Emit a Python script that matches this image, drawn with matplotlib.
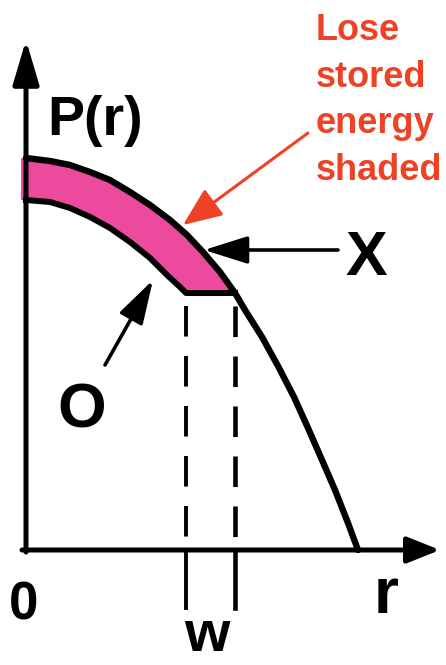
import numpy as np
import matplotlib.pyplot as plt
from matplotlib import font_manager

# curves (r, P in arbitrary units)
outer_r = [0.00, 0.24, 0.44, 0.64, 0.84, 1.04, 1.24, 1.44, 1.61, 1.77,
           1.94, 2.09, 2.19, 2.36, 2.52, 2.68, 2.82, 2.96, 3.09, 3.22, 3.32]
outer_P = [3.92, 3.89, 3.85, 3.78, 3.70, 3.58, 3.45, 3.30, 3.15, 2.98,
           2.78, 2.57, 2.40, 2.13, 1.84, 1.53, 1.22, 0.90, 0.60, 0.27, 0.00]
inner_r = [0.00, 0.24, 0.44, 0.64, 0.84, 1.04, 1.24, 1.41, 1.54, 1.60, 2.09]
inner_P = [3.50, 3.48, 3.42, 3.33, 3.22, 3.08, 2.92, 2.75, 2.63, 2.57, 2.57]
w_edges = [1.60, 2.09]
label_font = ['Liberation Sans Narrow', 'Liberation Sans', 'DejaVu Sans']
red = '#EE4126'
pink = '#EC4A9C'


def make_plot():
    names = {f.name for f in font_manager.fontManager.ttflist}
    lab = [f for f in label_font if f in names] or ['DejaVu Sans']
    plain = [f for f in label_font[1:] if f in names] or ['DejaVu Sans']

    fig = plt.figure(figsize=(4.46, 6.65), dpi=100)
    ax = fig.add_axes([0, 0, 1, 1])
    ax.set_xlim(-0.26, 4.20)
    ax.set_ylim(-1.15, 5.50)
    ax.axis('off')

    o_r = np.array(outer_r)
    o_P = np.array(outer_P)
    top = o_r <= w_edges[1] + 1e-9
    poly_r = np.concatenate([[-0.05], o_r[top], np.array(inner_r)[::-1], [-0.05]])
    poly_P = np.concatenate([[o_P[0]], o_P[top], np.array(inner_P)[::-1], [inner_P[0]]])
    ax.fill(poly_r, poly_P, color=pink, lw=0, zorder=1)

    ax.plot(outer_r, outer_P, color='k', lw=4.6, zorder=3,
            solid_capstyle='round', solid_joinstyle='round')
    ax.plot(inner_r, inner_P, color='k', lw=4.3, zorder=3,
            solid_joinstyle='round')

    # dashed markers of w
    for x, lw in zip(w_edges, [2.8, 3.3]):
        ax.plot([x, x], [2.44, 0.0], color='k', lw=lw,
                linestyle=(0, (22 / lw, 14 / lw)), zorder=2)
        ax.plot([x, x], [0.0, -0.58], color='k', lw=lw, zorder=2)

    # axes with arrow heads
    ax.annotate('', xy=(0, 5.10), xytext=(0, -0.02),
                arrowprops=dict(arrowstyle='-|>,head_length=2.7,head_width=0.8',
                                mutation_scale=10, lw=3.6, color='k',
                                shrinkA=0, shrinkB=0), zorder=4)
    ax.annotate('', xy=(4.14, 0), xytext=(-0.04, 0),
                arrowprops=dict(arrowstyle='-|>,head_length=2.0,head_width=0.8',
                                mutation_scale=10, lw=3.6, color='k',
                                shrinkA=0, shrinkB=0), zorder=4)

    # pointer arrows
    ax.annotate('', xy=(1.57, 3.25), xytext=(2.82, 4.17),
                arrowprops=dict(arrowstyle='-|>,head_length=2.4,head_width=1.0',
                                mutation_scale=10, lw=2.2, color=red,
                                shrinkA=0, shrinkB=0), zorder=5)
    ax.annotate('', xy=(1.78, 3.00), xytext=(3.12, 3.00),
                arrowprops=dict(arrowstyle='-|>,head_length=2.7,head_width=0.85',
                                mutation_scale=10, lw=2.6, color='k',
                                shrinkA=0, shrinkB=0), zorder=5)
    ax.annotate('', xy=(1.27, 2.70), xytext=(0.79, 1.85),
                arrowprops=dict(arrowstyle='-|>,head_length=2.7,head_width=0.8',
                                mutation_scale=10, lw=2.6, color='k',
                                shrinkA=0, shrinkB=0), zorder=5)

    kw = dict(family=lab, fontweight='bold', color='k', ha='center', va='baseline')
    ax.text(0.21, 4.15, 'P(r)', fontsize=40, **{**kw, 'ha': 'left'})
    ax.text(3.40, 2.75, 'X', fontsize=45, **kw)
    ax.text(0.56, 1.23, 'O', fontsize=45, **kw)
    ax.text(-0.02, -0.70, '0', fontsize=38, **kw)
    ax.text(3.60, -0.63, 'r', fontsize=46, **kw)
    ax.text(1.81, -1.13, 'w', fontsize=42, **{**kw, 'va': 'bottom'})

    ax.text(2.90, 5.37, 'Lose\nstored\nenergy\nshaded', fontsize=26,
            family=plain, fontweight='bold', color=red, ha='left', va='top',
            linespacing=1.43)

    fig.savefig('out.png', dpi=100)
    plt.close('all')


if __name__ == '__main__':
    make_plot()
